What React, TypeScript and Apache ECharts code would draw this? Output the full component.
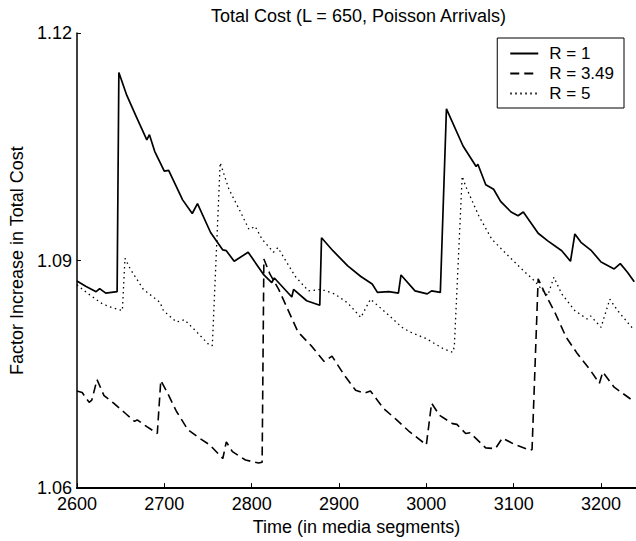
import React, { useEffect, useRef } from "react";
import * as echarts from "echarts";

// ---- Data ----
const xTicks = [2600, 2700, 2800, 2900, 3000, 3100, 3200];
const yTicks = [1.06, 1.09, 1.12];

const seriesNames = ["R = 1", "R = 3.49", "R = 5"];

// R = 1 (solid)
const r1X = [
  2600, 2610, 2622, 2626, 2633, 2646, 2648, 2657, 2667, 2680, 2683, 2689, 2700, 2705,
  2721, 2732, 2738, 2753, 2767, 2771, 2780, 2796, 2814, 2823, 2826, 2846, 2848, 2863,
  2878, 2880, 2893, 2910, 2925, 2938, 2944, 2957, 2968, 2971, 2987, 3001, 3006, 3016,
  3023, 3042, 3057, 3059, 3068, 3077, 3085, 3097, 3105, 3111, 3128, 3139, 3155, 3165,
  3170, 3177, 3189, 3200, 3215, 3222, 3230, 3238,
];
const r1Y = [
  1.0873, 1.0866, 1.0859, 1.0863, 1.0857, 1.0859, 1.1148, 1.1118, 1.1092, 1.1059, 1.1066,
  1.1044, 1.1018, 1.1019, 1.098, 1.0962, 1.0975, 1.0937, 1.0914, 1.0913, 1.0899, 1.0911,
  1.0881, 1.0871, 1.0877, 1.0852, 1.0862, 1.0847, 1.0841, 1.093, 1.0913, 1.0893, 1.0879,
  1.0869, 1.0858, 1.0859, 1.0857, 1.0881, 1.086, 1.0856, 1.086, 1.0858, 1.11, 1.1051,
  1.1024, 1.1027, 1.1, 1.0994, 1.0978, 1.0964, 1.0959, 1.0964, 1.0936, 1.0926, 1.0913,
  1.0899, 1.0935, 1.0924, 1.0913, 1.0898, 1.0889, 1.0896, 1.0885, 1.0872,
];

// R = 3.49 (dashed)
const r349X = [
  2600, 2606, 2614, 2617, 2623, 2631, 2642, 2656, 2666, 2669, 2680, 2692, 2696, 2703,
  2714, 2727, 2740, 2752, 2767, 2771, 2778, 2793, 2808, 2812, 2814, 2821, 2831, 2842,
  2853, 2868, 2883, 2892, 2906, 2919, 2929, 2936, 2951, 2966, 2981, 3000, 3006, 3015,
  3030, 3035, 3045, 3050, 3068, 3079, 3087, 3102, 3119, 3121, 3128, 3136, 3147, 3160,
  3173, 3188, 3198, 3202, 3215, 3238,
];
const r349Y = [
  1.0728, 1.0726, 1.0713, 1.0716, 1.0743, 1.0722, 1.0712, 1.0698, 1.0688, 1.069, 1.0681,
  1.0672, 1.0742, 1.0727, 1.0701, 1.0677, 1.0666, 1.0657, 1.0639, 1.0661, 1.0648, 1.0637,
  1.0633, 1.0634, 1.0902, 1.0882, 1.0862, 1.0834, 1.0806, 1.0788, 1.0767, 1.0774, 1.0749,
  1.0729, 1.0725, 1.0728, 1.0705, 1.069, 1.0674, 1.0657, 1.0712, 1.0696, 1.0685, 1.0684,
  1.0672, 1.0673, 1.0653, 1.0652, 1.0666, 1.0657, 1.065, 1.0651, 1.0876, 1.0856, 1.0832,
  1.0799, 1.0777, 1.0755, 1.0738, 1.0753, 1.0733, 1.0714,
];

// R = 5 (dotted)
const r5X = [
  2600, 2612, 2629, 2640, 2652, 2655, 2661, 2676, 2695, 2699, 2714, 2723, 2737, 2752,
  2755, 2764, 2774, 2786, 2797, 2804, 2812, 2825, 2830, 2850, 2865, 2880, 2895, 2910,
  2925, 2936, 2955, 2972, 2981, 3000, 3019, 3030, 3032, 3041, 3045, 3060, 3075, 3094,
  3109, 3124, 3132, 3139, 3146, 3155, 3170, 3184, 3188, 3200, 3210, 3219, 3238,
];
const r5Y = [
  1.0868, 1.0857, 1.0843, 1.0838, 1.0834, 1.0903, 1.0889, 1.0862, 1.0845, 1.0834, 1.0819,
  1.0822, 1.0806, 1.0788, 1.0788, 1.1029, 1.0994, 1.0967, 1.0941, 1.0945, 1.0928, 1.0911,
  1.0917, 1.0879, 1.086, 1.0862, 1.0856, 1.0844, 1.0825, 1.0849, 1.083, 1.0812, 1.0806,
  1.0797, 1.0784, 1.0779, 1.0786, 1.1011, 1.0998, 1.0959, 1.0928, 1.0906, 1.0889, 1.0873,
  1.0862, 1.0854, 1.0878, 1.0856, 1.0834, 1.0823, 1.0827, 1.0812, 1.0849, 1.0834, 1.0808,
];

const zip = (xs: number[], ys: number[]) => xs.map((x, i) => [x, ys[i]]);

const FONT = "'Liberation Sans', Arial, Helvetica, sans-serif";

export default function App() {
  const ref = useRef<HTMLDivElement>(null);

  useEffect(() => {
    if (!ref.current) return;
    const chart = echarts.init(ref.current, undefined, { renderer: "svg" });
    const lineBase = { type: "line", showSymbol: false, symbol: "none", smooth: false };
    chart.setOption({
      animation: false,
      backgroundColor: "#fff",
      textStyle: { fontFamily: FONT, color: "#000" },
      title: {
        text: "Total Cost (L = 650, Poisson Arrivals)",
        left: 206,
        top: 2,
        textStyle: { fontFamily: FONT, fontSize: 18, fontWeight: "normal", color: "#000" },
      },
      legend: {
        data: seriesNames,
        orient: "vertical",
        right: 12,
        top: 38,
        backgroundColor: "#fff",
        borderColor: "#000",
        borderWidth: 1,
        padding: [7, 10, 6, 12],
        itemWidth: 28,
        itemHeight: 12,
        itemGap: 3,
        itemStyle: { opacity: 0 },
        textStyle: { fontFamily: FONT, fontSize: 17, color: "#000", padding: [0, 0, 0, 6] },
      },
      grid: { left: 73, right: 0, top: 33, bottom: 51, containLabel: false },
      xAxis: {
        type: "value",
        min: 2600,
        max: 3240,
        interval: 100,
        name: "Time (in media segments)",
        nameLocation: "middle",
        nameGap: 26,
        nameTextStyle: { fontFamily: FONT, fontSize: 18, color: "#000" },
        axisLine: { show: true, onZero: false, lineStyle: { color: "#000", width: 2 } },
        axisTick: { show: true, inside: true, length: 5, lineStyle: { color: "#000", width: 1 } },
        axisLabel: {
          color: "#000",
          fontFamily: FONT,
          fontSize: 18,
          margin: 8,
          lineHeight: 16,
          showMaxLabel: false,
          formatter: (v: number) => (xTicks.includes(v) ? String(v) : ""),
        },
        splitLine: { show: false },
      },
      yAxis: {
        type: "value",
        min: 1.06,
        max: 1.12,
        interval: 0.03,
        name: "Factor Increase in Total Cost",
        nameLocation: "middle",
        nameGap: 42,
        nameRotate: 90,
        nameTextStyle: { fontFamily: FONT, fontSize: 18, color: "#000" },
        axisLine: { show: true, onZero: false, lineStyle: { color: "#000", width: 1.5 } },
        axisTick: { show: true, inside: true, length: 4, lineStyle: { color: "#000", width: 1 } },
        axisLabel: {
          color: "#000",
          fontFamily: FONT,
          fontSize: 18,
          margin: 5,
          lineHeight: 14,
          formatter: (v: number) => {
            const t = yTicks.find((k) => Math.abs(k - v) < 1e-6);
            return t !== undefined ? t.toFixed(2) : "";
          },
        },
        splitLine: { show: false },
      },
      series: [
        {
          ...lineBase,
          name: seriesNames[0],
          data: zip(r1X, r1Y),
          lineStyle: { color: "#000", width: 1.7, type: "solid" },
          itemStyle: { color: "#000" },
        },
        {
          ...lineBase,
          name: seriesNames[1],
          data: zip(r349X, r349Y),
          lineStyle: { color: "#000", width: 1.6, type: [9, 5] },
          itemStyle: { color: "#000" },
        },
        {
          ...lineBase,
          name: seriesNames[2],
          data: zip(r5X, r5Y),
          lineStyle: { color: "#000", width: 1.3, type: [1.5, 3.5] },
          itemStyle: { color: "#000" },
        },
      ],
    });
    return () => chart.dispose();
  }, []);

  return (
    <div
      ref={ref}
      style={{ position: "fixed", left: 0, top: 0, width: 636, height: 541, background: "#fff" }}
    />
  );
}
